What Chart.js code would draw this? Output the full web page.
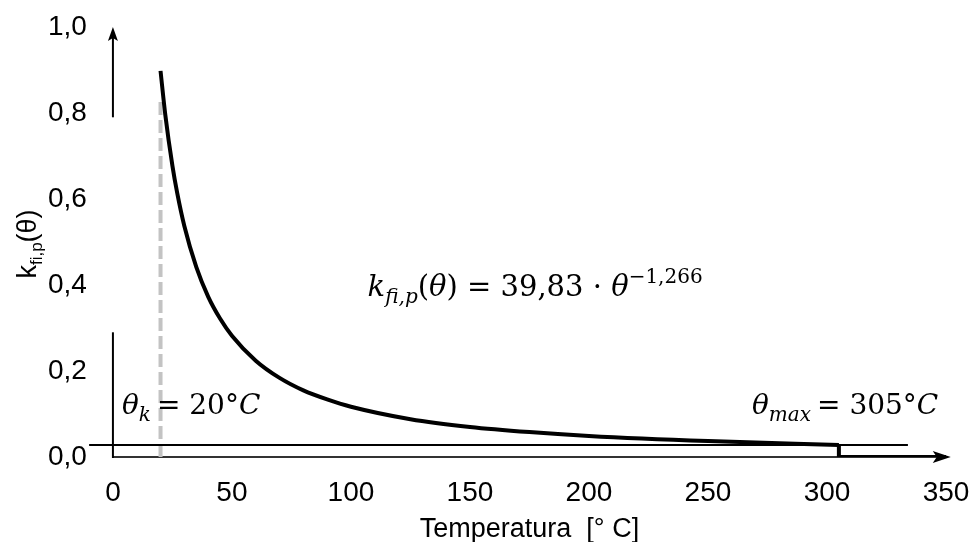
<!DOCTYPE html>
<html>
<head>
<meta charset="utf-8">
<script src="https://cdn.jsdelivr.net/npm/chart.js@4.4.1/dist/chart.umd.min.js"></script>
<style>
  html, body { margin: 0; padding: 0; background: #fff; }
</style>
</head>
<body>
<canvas id="chart" width="972" height="542"></canvas>
<script>
// curve k_fi,p(theta)
const temps = [20, 22, 25, 27, 30, 35, 40, 45, 50, 60, 70, 80, 90, 100, 125, 150, 175, 200, 250, 305];
const kValues = [0.898, 0.796, 0.677, 0.614, 0.537, 0.442, 0.373, 0.322, 0.282, 0.224, 0.184, 0.155, 0.134, 0.117, 0.088, 0.070, 0.058, 0.049, 0.037, 0.028];

// drop to zero after theta_max
const stepTemps = [305, 305, 350];
const stepValues = [0.028, 0, 0];

// thin level line at the end value
const levelTemps = [-10, 334];
const levelValues = [0.028, 0.028];

// dashed marker at theta_k
const markTemps = [20, 20];
const markValues = [0, 0.83];

// axis pieces
const yAxisLow = [0, 0.29];
const yAxisArrow = [0.79, 1.0];
const xAxisEnd = 352;

const MATH = '"DejaVu Serif", serif';
const SANS = '"Liberation Sans", Arial, sans-serif';

const pts = (xs, ys) => xs.map((x, i) => ({ x, y: ys[i] }));

const drawRuns = (ctx, x, y, runs) => {
    runs.forEach(r => {
        ctx.font = r.font;
        ctx.fillText(r.text, x, y + (r.dy || 0));
        x += ctx.measureText(r.text).width + (r.dx || 0);
    });
    return x;
};

const runsWidth = (ctx, runs) => runs.reduce((w, r) => {
    ctx.font = r.font;
    return w + ctx.measureText(r.text).width + (r.dx || 0);
}, 0);

const arrowHead = (ctx, tx, ty, dir) => {
    ctx.beginPath();
    if (dir === 'up') {
        ctx.moveTo(tx, ty);
        ctx.lineTo(tx - 5, ty + 14);
        ctx.lineTo(tx, ty + 11);
        ctx.lineTo(tx + 5, ty + 14);
    } else {
        ctx.moveTo(tx, ty);
        ctx.lineTo(tx - 18, ty - 6);
        ctx.lineTo(tx - 14, ty);
        ctx.lineTo(tx - 18, ty + 6);
    }
    ctx.closePath();
    ctx.fill();
};

// invisible tick marks keep the label gap without widening the end padding
const hiddenGrid = len => ({
    display: true,
    drawOnChartArea: false,
    drawTicks: true,
    tickLength: len,
    color: 'rgba(0,0,0,0)'
});

const decor = {
    id: 'decor',
    beforeDatasetsDraw(chart) {
        const { ctx, scales: { x, y } } = chart;
        const x0 = x.getPixelForValue(0);
        const y0 = y.getPixelForValue(0);
        ctx.save();
        ctx.fillStyle = '#000';
        ctx.lineWidth = 2;

        // x axis with arrow
        ctx.strokeStyle = '#333';
        const xe = x.getPixelForValue(xAxisEnd);
        ctx.beginPath();
        ctx.moveTo(x0, y0);
        ctx.lineTo(xe - 12, y0);
        ctx.stroke();
        arrowHead(ctx, xe, y0, 'right');

        // y axis, lower part
        ctx.strokeStyle = '#000';
        ctx.beginPath();
        ctx.moveTo(x0, y.getPixelForValue(yAxisLow[0]) + 1);
        ctx.lineTo(x0, y.getPixelForValue(yAxisLow[1]));
        ctx.stroke();

        // y axis, arrow part
        const yt = y.getPixelForValue(yAxisArrow[1]);
        ctx.beginPath();
        ctx.moveTo(x0, y.getPixelForValue(yAxisArrow[0]));
        ctx.lineTo(x0, yt + 10);
        ctx.stroke();
        arrowHead(ctx, x0, yt, 'up');
        ctx.restore();
    },
    afterDraw(chart) {
        const { ctx, scales: { x, y } } = chart;
        ctx.save();
        ctx.fillStyle = '#000';
        ctx.textBaseline = 'alphabetic';

        // y title  k_fi,p(θ)
        const yRuns = [
            { text: 'k', font: `27px ${SANS}` },
            { text: 'fi,p', font: `17px ${SANS}`, dy: 6 },
            { text: '(θ)', font: `27px ${SANS}` }
        ];
        const yw = runsWidth(ctx, yRuns);
        ctx.translate(36, 244);
        ctx.rotate(-Math.PI / 2);
        drawRuns(ctx, -yw / 2, 0, yRuns);
        ctx.setTransform(1, 0, 0, 1, 0, 0);

        // formula
        const S = 29, s = 20;
        drawRuns(ctx, x.getPixelForValue(107), y.getPixelForValue(0.374), [
            { text: 'k', font: `italic ${S}px ${MATH}` },
            { text: 'fi,p', font: `italic ${s}px ${MATH}`, dy: 7 },
            { text: '(', font: `${S}px ${MATH}` },
            { text: 'θ', font: `italic ${S}px ${MATH}` },
            { text: ') = 39,83 · ', font: `${S}px ${MATH}` },
            { text: 'θ', font: `italic ${S}px ${MATH}` },
            { text: '−1,266', font: `${s}px ${MATH}`, dy: -13 }
        ]);

        // theta_k
        const S2 = 28, s2 = 20;
        const yl = y.getPixelForValue(0.1);
        drawRuns(ctx, x.getPixelForValue(3.8), yl, [
            { text: 'θ', font: `italic ${S2}px ${MATH}` },
            { text: 'k', font: `italic ${s2}px ${MATH}`, dy: 7, dx: 6 },
            { text: '= 20°', font: `${S2}px ${MATH}` },
            { text: 'C', font: `italic ${S2}px ${MATH}` }
        ]);

        // theta_max
        drawRuns(ctx, x.getPixelForValue(268.5), yl, [
            { text: 'θ', font: `italic ${S2}px ${MATH}` },
            { text: 'max', font: `italic ${s2}px ${MATH}`, dy: 7, dx: 6 },
            { text: '= 305°', font: `${S2}px ${MATH}` },
            { text: 'C', font: `italic ${S2}px ${MATH}` }
        ]);
        ctx.restore();
    }
};

new Chart(document.getElementById('chart'), {
    type: 'line',
    data: {
        datasets: [
            {
                data: pts(temps, kValues),
                borderColor: '#000',
                borderWidth: 4,
                pointRadius: 0,
                cubicInterpolationMode: 'monotone'
            },
            {
                data: pts(stepTemps, stepValues),
                borderColor: '#000',
                borderWidth: 4,
                pointRadius: 0,
                tension: 0,
                borderJoinStyle: 'miter'
            },
            {
                data: pts(levelTemps, levelValues),
                borderColor: '#000',
                borderWidth: 2,
                pointRadius: 0,
                clip: false
            },
            {
                data: pts(markTemps, markValues),
                borderColor: '#c3c3c3',
                borderWidth: 4,
                borderDash: [13, 5],
                pointRadius: 0
            }
        ]
    },
    options: {
        responsive: false,
        animation: false,
        devicePixelRatio: 1,
        layout: { padding: { left: 48, right: 26, top: 27, bottom: -4 } },
        plugins: {
            legend: { display: false },
            tooltip: { enabled: false }
        },
        scales: {
            x: {
                type: 'linear',
                min: 0,
                max: 350,
                grid: hiddenGrid(19),
                border: { display: false },
                ticks: {
                    stepSize: 50,
                    color: '#000',
                    padding: 0,
                    maxRotation: 0,
                    font: { family: SANS, size: 28 }
                },
                title: {
                    display: true,
                    text: 'Temperatura  [° C]',
                    color: '#000',
                    padding: { top: 4, bottom: 0 },
                    font: { family: SANS, size: 27 }
                }
            },
            y: {
                min: 0,
                max: 1,
                grid: hiddenGrid(26),
                border: { display: false },
                ticks: {
                    stepSize: 0.2,
                    color: '#000',
                    padding: 0,
                    font: { family: SANS, size: 28 },
                    callback: v => v.toFixed(1).replace('.', ',')
                }
            }
        }
    },
    plugins: [decor]
});
</script>
</body>
</html>
